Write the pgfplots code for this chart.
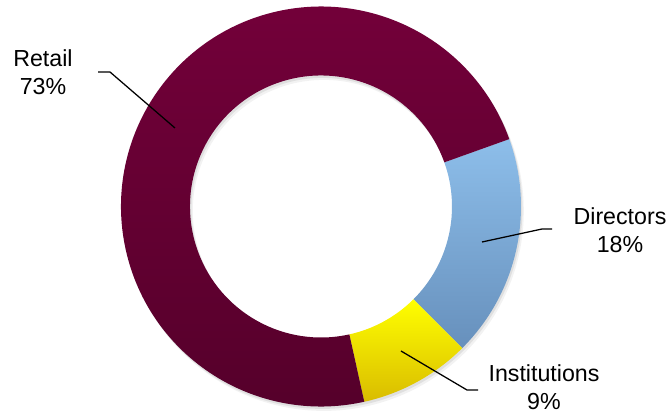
\documentclass[border=0pt]{standalone}
\usepackage{pgfplots}
\pgfplotsset{compat=1.18}
\usepackage{pgfplotstable}
\usepackage{fontspec}
\setmainfont{Liberation Sans}

% shareholding split, in percent
\pgfplotstableread{
label pct
Directors 18
Institutions 9
Retail 73
}\shares

\definecolor{retailtop}{HTML}{74003A}
\definecolor{retailbot}{HTML}{54002A}
\definecolor{dirtop}{HTML}{8DBEEA}
\definecolor{dirbot}{HTML}{6790BC}
\definecolor{insttop}{HTML}{FFFF00}
\definecolor{instbot}{HTML}{D9BC00}

\newcommand\rout{5}
\newcommand\rin{3.275}
% annular sector from angle #1 to angle #2 (clockwise)
\newcommand\ringpath[2]{(axis cs:{\rout*cos(#1)},{\rout*sin(#1)}) arc[start angle=#1,end angle=#2,radius=\rout]
  -- (axis cs:{\rin*cos(#2)},{\rin*sin(#2)}) arc[start angle=#2,end angle=#1,radius=\rin] -- cycle}

\begin{document}
\begin{tikzpicture}
\pgfplotstablegetelem{0}{pct}\of\shares \let\pD\pgfplotsretval
\pgfplotstablegetelem{1}{pct}\of\shares \let\pI\pgfplotsretval
\pgfplotstablegetelem{2}{pct}\of\shares \let\pR\pgfplotsretval
\pgfmathsetmacro\aA{19.7}
\pgfmathsetmacro\aB{\aA-3.6*\pD}
\pgfmathsetmacro\aC{\aB-3.6*\pI}
\pgfmathsetmacro\aD{\aC-3.6*\pR}
\begin{axis}[
    x=1cm, y=1cm,
    scale only axis,
    hide axis,
    clip=false,
    xmin=-8.025, xmax=8.775,
    ymin=-5.1875, ymax=5.1625,
]
% soft shadow
\fill[black, opacity=0.05, even odd rule]
  (axis cs:0.07,-0.11) circle[radius=\rout] (axis cs:0.07,-0.11) circle[radius=\rin];
\fill[black, opacity=0.08, even odd rule]
  (axis cs:0.035,-0.06) circle[radius=\rout] (axis cs:0.035,-0.06) circle[radius=\rin];

\shade[top color=dirtop, bottom color=dirbot] \ringpath{\aA}{\aB};
\shade[top color=insttop, bottom color=instbot] \ringpath{\aB}{\aC};
\shade[top color=retailtop, bottom color=retailbot] \ringpath{\aC}{\aD};

% leader lines
\draw[black, line width=0.9pt] (axis cs:-5.575,3.3625) -- (axis cs:-5.275,3.3625) -- (axis cs:-3.65,1.9625);
\draw[black, line width=0.9pt] (axis cs:4.025,-0.8875) -- (axis cs:5.525,-0.5625) -- (axis cs:5.775,-0.5625);
\draw[black, line width=0.9pt] (axis cs:2.0,-3.6125) -- (axis cs:3.65,-4.5875) -- (axis cs:3.925,-4.5875);

% labels
\tikzset{lbl/.style={align=center, inner sep=0pt, font=\fontsize{16.5}{19.8}\selectfont}}
\node[lbl] at (axis cs:-6.95,3.3625) {Retail\\73\%};
\node[lbl] at (axis cs:7.475,-0.5875) {Directors\\18\%};
\node[lbl] at (axis cs:5.575,-4.52) {Institutions\\9\%};
\end{axis}
\pgfresetboundingbox
\path[use as bounding box] (current axis.south west) rectangle (current axis.north east);
\end{tikzpicture}
\end{document}
